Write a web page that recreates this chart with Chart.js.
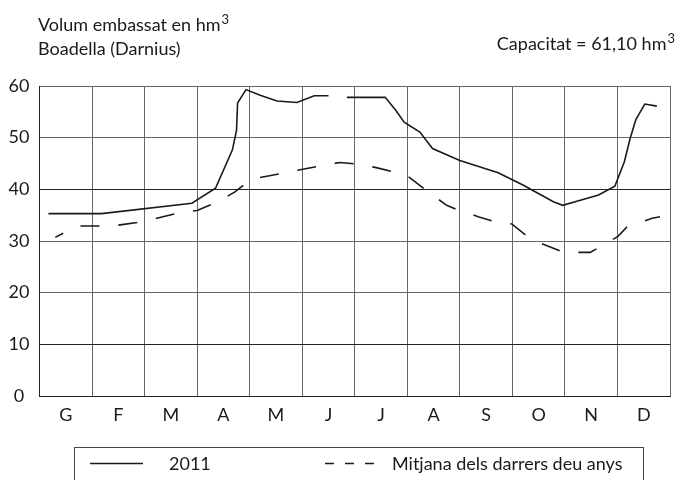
<!DOCTYPE html>
<html>
<head>
<meta charset="utf-8">
<script src="https://cdn.jsdelivr.net/npm/chart.js@4/dist/chart.umd.min.js"></script>
<style>
	html, body { margin: 0; padding: 0; background: #fff; }
	canvas { display: block; }
</style>
</head>
<body>
<canvas id="embassat" width="679" height="480"></canvas>
<script>
// months (Catalan initials)
const months = ['G', 'F', 'M', 'A', 'M', 'J', 'J', 'A', 'S', 'O', 'N', 'D'];
const yTicks = [0, 10, 20, 30, 40, 50, 60];

// 2011, x in months since 1 Jan, null = gap in the record
const x2011 = [0.17, 1.18, 2.90, 3.35, 3.67, 3.75, 3.77, 3.93, 4.20, 4.52, 4.90, 5.23, 5.50, 5.68, 5.85, 6.58, 6.78, 6.94, 7.24, 7.48, 8.00, 8.73, 9.21, 9.78, 9.96, 10.26, 10.64, 10.95, 11.13, 11.24, 11.35, 11.52, 11.75];
const vol2011 = [35.3, 35.3, 37.3, 40.2, 47.6, 51.4, 56.7, 59.3, 58.2, 57.1, 56.8, 58.1, 58.1, null, 57.8, 57.8, 55.3, 53.0, 51.1, 47.9, 45.6, 43.2, 40.8, 37.6, 36.9, 37.8, 38.9, 40.6, 45.3, 49.8, 53.5, 56.5, 56.1];

// mean of the last ten years
const xAvg = [0.30, 0.71, 1.38, 1.95, 2.67, 3.00, 3.40, 3.72, 4.01, 4.10, 4.77, 5.32, 5.72, 6.04, 6.41, 6.73, 6.96, 7.36, 7.75, 7.97, 8.35, 8.67, 8.99, 9.34, 9.66, 9.98, 10.48, 10.71, 11.01, 11.18, 11.30, 11.66, 11.81];
const volAvg = [30.7, 32.9, 32.9, 33.7, 35.5, 35.9, 37.6, 39.5, 41.8, 42.1, 43.4, 44.5, 45.2, 44.9, 44.2, 43.4, 42.9, 39.8, 36.9, 36.0, 34.7, 33.7, 33.3, 30.4, 29.1, 27.8, 27.8, 29.1, 30.9, 32.7, 33.1, 34.4, 34.7];

const FONT = 'Lato, "Open Sans", sans-serif';
const SIZE = 18;
const INK = '#1a1a1a';

const points = (xs, ys) => xs.map((x, i) => ({ x: x, y: ys[i] }));

const data = {
	datasets: [{
		label: '2011',
		data: points(x2011, vol2011),
		borderColor: INK,
		borderWidth: 1.6,
		pointRadius: 0,
		tension: 0,
		spanGaps: false
	}, {
		label: 'Mitjana dels darrers deu anys',
		data: points(xAvg, volAvg),
		borderColor: INK,
		borderWidth: 1.6,
		borderDash: [19, 19],
		borderDashOffset: 10,
		pointRadius: 0,
		tension: 0
	}]
};

// titles, white background and the boxed legend
const decor = {
	id: 'decor',
	beforeDraw(chart) {
		const { ctx } = chart;
		ctx.save();
		ctx.fillStyle = '#fff';
		ctx.fillRect(0, 0, chart.width, chart.height);
		ctx.restore();
	},
	afterDraw(chart) {
		const { ctx } = chart;
		ctx.save();
		ctx.fillStyle = INK;
		ctx.textBaseline = 'alphabetic';

		// text with a raised "3"
		const withCube = (txt, x, y, align) => {
			ctx.font = SIZE + 'px ' + FONT;
			const w = ctx.measureText(txt).width;
			ctx.font = '13px ' + FONT;
			const w3 = ctx.measureText('3').width;
			const left = align === 'right' ? x - w - w3 - 1 : x;
			ctx.textAlign = 'left';
			ctx.font = SIZE + 'px ' + FONT;
			ctx.fillText(txt, left, y);
			ctx.font = '13px ' + FONT;
			ctx.fillText('3', left + w + 1, y - 7);
		};
		withCube('Volum embassat en hm', 38, 31, 'left');
		ctx.font = SIZE + 'px ' + FONT;
		ctx.textAlign = 'left';
		ctx.fillText('Boadella (Darnius)', 38, 55);
		withCube('Capacitat = 61,10 hm', 675, 50, 'right');

		// legend box (open at the bottom edge of the picture)
		ctx.strokeStyle = '#444';
		ctx.lineWidth = 1;
		ctx.strokeRect(74.5, 447.5, 569, 60);

		const ds = chart.data.datasets;
		const items = [
			{ x0: 90, x1: 143, tx: 169 },
			{ x0: 325, x1: 375, tx: 392 }
		];
		items.forEach((it, i) => {
			ctx.beginPath();
			ctx.strokeStyle = INK;
			ctx.lineWidth = 1.6;
			ctx.setLineDash(ds[i].borderDash ? [9, 11] : []);
			ctx.moveTo(it.x0, 463.5);
			ctx.lineTo(it.x1, 463.5);
			ctx.stroke();
			ctx.setLineDash([]);
			ctx.font = SIZE + 'px ' + FONT;
			ctx.fillText(ds[i].label, it.tx, 470);
		});
		ctx.restore();
	}
};

const darkAt = [10, 40];

const config = {
	type: 'line',
	data,
	options: {
		responsive: false,
		animation: false,
		layout: { padding: { top: 86, right: 9, bottom: 0, left: 0 } },
		plugins: {
			legend: { display: false },
			tooltip: { enabled: false }
		},
		scales: {
			x: {
				type: 'linear',
				min: 0,
				max: 12,
				ticks: { stepSize: 1, display: false },
				grid: { color: '#666', lineWidth: 1, drawTicks: false },
				border: { display: true, color: '#222', width: 1 },
				afterFit(scale) { scale.height = 0; }
			},
			xLab: {
				type: 'linear',
				position: 'bottom',
				min: 0,
				max: 12,
				afterBuildTicks(scale) {
					scale.ticks = months.map((m, i) => ({ value: i + 0.5 }));
				},
				ticks: {
					autoSkip: false,
					maxRotation: 0,
					padding: 8,
					color: INK,
					font: { family: FONT, size: SIZE },
					callback: (v, i) => months[i]
				},
				grid: { display: false, drawTicks: false },
				border: { display: false },
				afterFit(scale) { scale.height = 84; }
			},
			y: {
				min: 0,
				max: 60,
				afterBuildTicks(scale) {
					scale.ticks = yTicks.map(v => ({ value: v }));
				},
				ticks: {
					padding: 10,
					crossAlign: 'center',
					color: INK,
					font: { family: FONT, size: SIZE }
				},
				grid: {
					drawTicks: false,
					lineWidth: 1,
					color: c => darkAt.includes(c.tick && c.tick.value) ? '#222' : '#666'
				},
				border: { display: true, color: '#222', width: 1 },
				afterFit(scale) { scale.width = 39.5; }
			}
		}
	},
	plugins: [decor]
};

new Chart(document.getElementById('embassat'), config);
</script>
</body>
</html>
